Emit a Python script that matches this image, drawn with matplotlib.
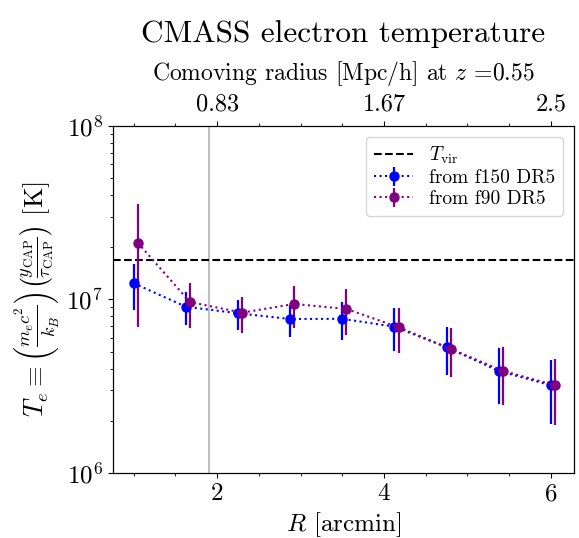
import numpy as np
import matplotlib
matplotlib.use('Agg')
import matplotlib.pyplot as plt
from matplotlib.ticker import MultipleLocator

plt.rcParams['font.family'] = 'serif'
plt.rcParams['font.serif'] = ['cmr10']
plt.rcParams['mathtext.fontset'] = 'cm'
plt.rcParams['axes.formatter.use_mathtext'] = True

# Daten
R = [1.0, 1.625, 2.25, 2.875, 3.5, 4.125, 4.75, 5.375, 6.0]
T_f150 = [1.24e7, 9.09e6, 8.33e6, 7.72e6, 7.74e6, 6.97e6, 5.31e6, 3.88e6, 3.21e6]
err_f150 = [3.65e6, 2.0e6, 1.66e6, 1.62e6, 1.89e6, 1.93e6, 1.64e6, 1.38e6, 1.29e6]
T_f90 = [2.12e7, 9.67e6, 8.40e6, 9.42e6, 8.82e6, 6.92e6, 5.19e6, 3.88e6, 3.21e6]
err_f90 = [1.43e7, 2.8e6, 1.95e6, 2.6e6, 2.6e6, 1.98e6, 1.63e6, 1.42e6, 1.32e6]
offset_f90 = 0.05
T_vir = 1.69e7
R_beam = 1.9
top_ticks = [2, 4, 6]
top_labels = ['0.83', '1.67', '2.5']

fig = plt.figure(figsize=(5.79, 5.38), dpi=100)
ax = fig.add_axes([0.1947, 0.1203, 0.9919 - 0.1947, 0.7664 - 0.1203])

ax.axvline(R_beam, color='0.75', lw=1.5)
ax.axhline(T_vir, color='k', ls='--', lw=1.5, label=r'$T_{\rm vir}$')
ax.errorbar(R, T_f150, yerr=err_f150, fmt='o:', color='blue', ms=6.5,
            lw=1.5, elinewidth=1.6, label='from f150 DR5')
ax.errorbar(np.array(R) + offset_f90, T_f90, yerr=err_f90, fmt='o:',
            color='purple', ms=6.5, lw=1.5, elinewidth=1.6, label='from f90 DR5')

ax.set_yscale('log')
ax.set_ylim(1e6, 1e8)
ax.set_xlim(0.75, 6.28)
ax.xaxis.set_major_locator(MultipleLocator(2))
ax.xaxis.set_minor_locator(MultipleLocator(0.5))
ax.tick_params(labelsize=18)
ax.set_xlabel(r'$R$ [arcmin]', fontsize=18)
ax.set_ylabel(r'$T_e \equiv \left(\frac{m_e c^2}{k_B}\right) '
              r'\left(\frac{y_{\rm CAP}}{\tau_{\rm CAP}}\right)$ [K]', fontsize=19)
ax.legend(loc='upper right', fontsize=14, labelspacing=0.15,
          handletextpad=0.8, borderaxespad=0.6)

ax2 = ax.twiny()
ax2.set_xlim(ax.get_xlim())
ax2.set_xticks(top_ticks)
ax2.set_xticklabels(top_labels)
ax2.xaxis.set_minor_locator(MultipleLocator(0.5))
ax2.tick_params(labelsize=17.5)
ax2.set_xlabel(r'Comoving radius [Mpc/h] at $z$ =0.55', fontsize=17, labelpad=10)
ax2.set_title('CMASS electron temperature', fontsize=22.5, pad=12)

plt.savefig('out.png', dpi=100)
